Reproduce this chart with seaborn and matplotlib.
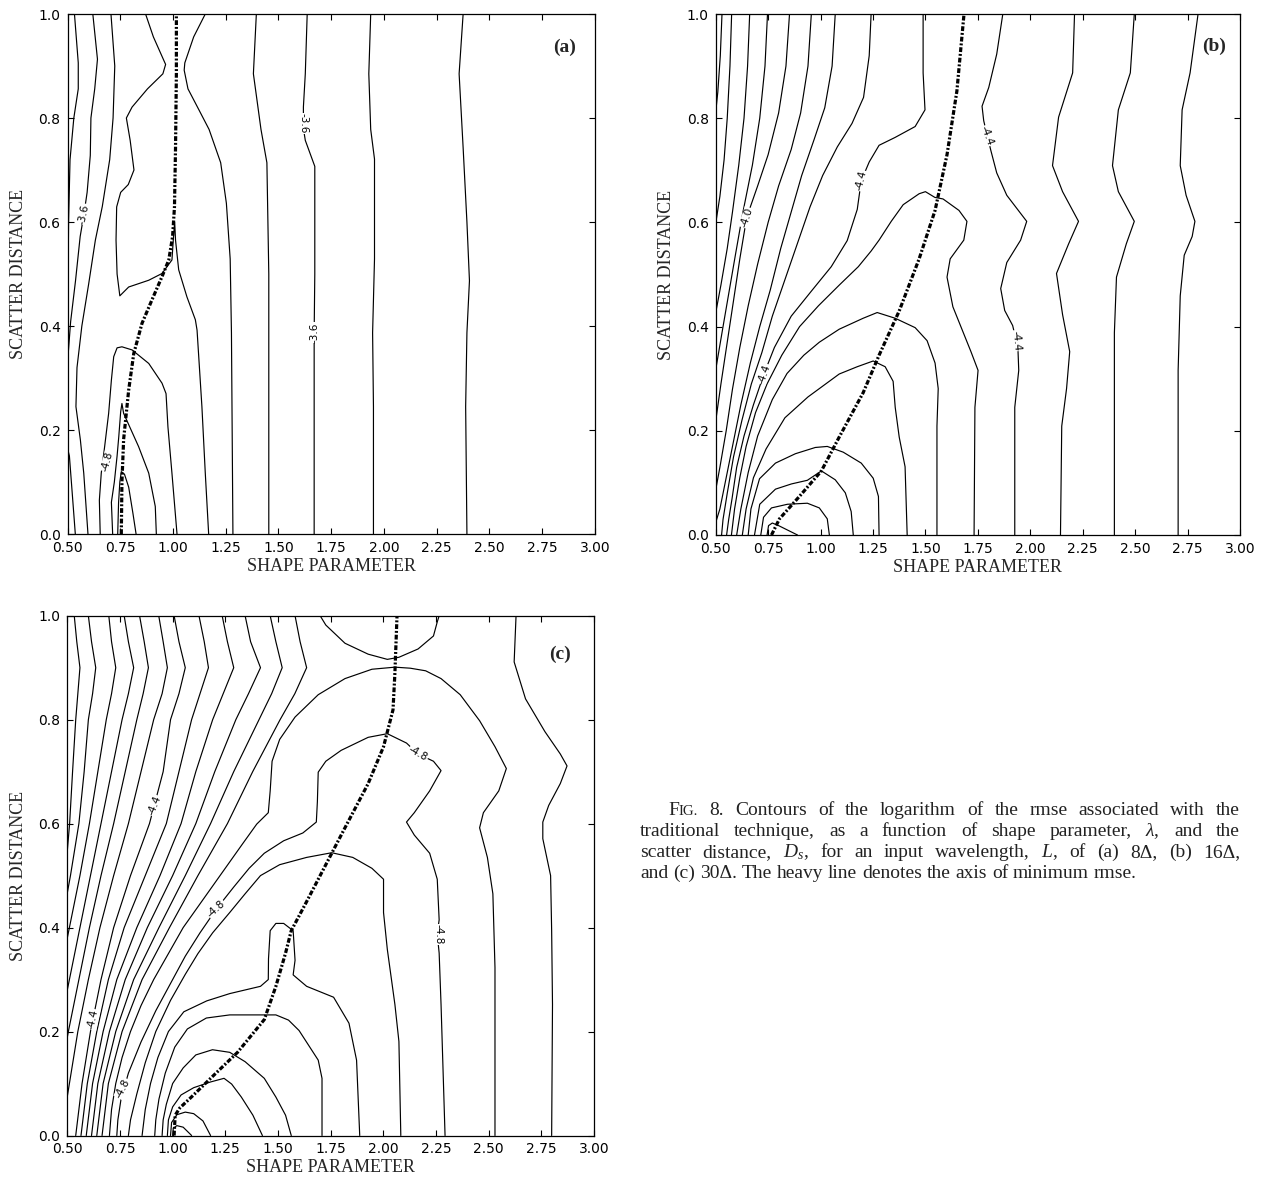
import matplotlib
matplotlib.use("Agg")
import matplotlib.pyplot as plt
import seaborn as sns

# ---------------------------------------------------------------
# Contour polylines (shape parameter, scatter distance) per panel
# ---------------------------------------------------------------

# Panel (a): L = 8 delta
a_r1 = [(2.375, 1.0), (2.356, 0.885), (2.375, 0.743), (2.393, 0.60), (2.405, 0.487), (2.393, 0.387), (2.387, 0.245), (2.393, 0.0)]
a_r2 = [(1.937, 1.0), (1.928, 0.885), (1.937, 0.778), (1.955, 0.721), (1.955, 0.529), (1.946, 0.387), (1.950, 0.245), (1.950, 0.0)]
a_r3 = [(1.636, 1.0), (1.627, 0.885), (1.618, 0.821), (1.618, 0.78), (1.627, 0.757), (1.672, 0.707), (1.672, 0.5), (1.669, 0.387), (1.669, 0.0)]
a_r4 = [(1.395, 1.0), (1.381, 0.885), (1.417, 0.778), (1.445, 0.714), (1.454, 0.5), (1.454, 0.3), (1.454, 0.0)]
a_r5 = [(1.153, 1.0), (1.098, 0.956), (1.056, 0.906), (1.053, 0.892), (1.071, 0.856), (1.125, 0.814), (1.171, 0.778),
        (1.226, 0.714), (1.253, 0.636), (1.271, 0.529), (1.277, 0.387), (1.284, 0.0)]
a_saddle = [(0.870, 1.0), (0.907, 0.956), (0.965, 0.903), (0.952, 0.885), (0.879, 0.856), (0.806, 0.821), (0.779, 0.80),
            (0.797, 0.757), (0.815, 0.70), (0.788, 0.672), (0.752, 0.657), (0.733, 0.629), (0.730, 0.565), (0.735, 0.50),
            (0.748, 0.458), (0.79, 0.475), (0.885, 0.488), (0.948, 0.501), (0.995, 0.527), (1.003, 0.575), (1.008, 0.60),
            (1.012, 0.565), (1.027, 0.508), (1.066, 0.456), (1.106, 0.412), (1.114, 0.392), (1.137, 0.245), (1.153, 0.117),
            (1.169, 0.0)]
a_l1 = [(0.533, 1.0), (0.551, 0.906), (0.551, 0.856), (0.530, 0.80), (0.512, 0.72), (0.505, 0.60), (0.503, 0.50), (0.497, 0.42)]
a_l1b = [(0.497, 0.17), (0.509, 0.15), (0.521, 0.086), (0.537, 0.0)]
a_l2 = [(0.620, 1.0), (0.642, 0.913), (0.629, 0.856), (0.611, 0.80), (0.608, 0.728), (0.593, 0.657), (0.578, 0.615),
        (0.560, 0.572), (0.538, 0.487), (0.515, 0.409), (0.503, 0.345), (0.497, 0.32)]
a_l3 = [(0.706, 1.0), (0.724, 0.90), (0.716, 0.80), (0.700, 0.72), (0.665, 0.63), (0.632, 0.565), (0.600, 0.48),
        (0.568, 0.40), (0.545, 0.32), (0.540, 0.245), (0.561, 0.181), (0.577, 0.117), (0.597, 0.0)]
a_arch1 = [(0.655, 0.0), (0.651, 0.065), (0.660, 0.117), (0.676, 0.168), (0.695, 0.232), (0.708, 0.296), (0.719, 0.341),
           (0.735, 0.358), (0.758, 0.360), (0.806, 0.354), (0.885, 0.328), (0.948, 0.290), (0.967, 0.270), (0.976, 0.206),
           (0.995, 0.117), (1.019, 0.0)]
a_arch2 = [(0.714, 0.0), (0.708, 0.061), (0.722, 0.10), (0.735, 0.15), (0.743, 0.187), (0.752, 0.235), (0.758, 0.251),
           (0.766, 0.232), (0.837, 0.168), (0.885, 0.117), (0.916, 0.053), (0.921, 0.0)]
a_arch3 = [(0.738, 0.0), (0.742, 0.06), (0.748, 0.10), (0.755, 0.12), (0.77, 0.115), (0.79, 0.09), (0.81, 0.04), (0.825, 0.0)]
a_min_axis = [(0.755, 0.0), (0.758, 0.10), (0.766, 0.182), (0.790, 0.277), (0.814, 0.347), (0.853, 0.405), (0.900, 0.450),
              (0.948, 0.495), (0.980, 0.527), (0.998, 0.572), (1.007, 0.629), (1.012, 0.743), (1.016, 0.885), (1.016, 1.0)]
a_labels = [("-3.6", 0.578, 0.615, 78), ("-3.6", 1.620, 0.790, -90), ("-3.6", 1.672, 0.387, 90), ("-4.8", 0.690, 0.14, 75)]

# Panel (b): L = 16 delta
b_r1 = [(2.800, 1.0), (2.762, 0.887), (2.724, 0.816), (2.715, 0.709), (2.743, 0.652), (2.785, 0.602), (2.772, 0.573),
        (2.734, 0.537), (2.715, 0.459), (2.705, 0.316), (2.705, 0.0)]
b_r2 = [(2.496, 1.0), (2.477, 0.887), (2.420, 0.816), (2.392, 0.709), (2.420, 0.659), (2.496, 0.602), (2.458, 0.559),
        (2.411, 0.495), (2.401, 0.388), (2.401, 0.0)]
b_r3 = [(2.211, 1.0), (2.202, 0.887), (2.135, 0.802), (2.106, 0.709), (2.154, 0.659), (2.230, 0.602), (2.183, 0.559),
        (2.125, 0.502), (2.154, 0.423), (2.188, 0.352), (2.173, 0.281), (2.150, 0.209), (2.144, 0.0)]
b_r4 = [(1.869, 1.0), (1.840, 0.923), (1.802, 0.859), (1.770, 0.823), (1.778, 0.795), (1.812, 0.738), (1.840, 0.695),
        (1.888, 0.652), (1.983, 0.602), (1.954, 0.566), (1.888, 0.523), (1.859, 0.473), (1.878, 0.431), (1.916, 0.402),
        (1.941, 0.359), (1.945, 0.316), (1.926, 0.245), (1.926, 0.0)]
b_a0 = [(0.745, 0.0), (0.752, 0.018), (0.77, 0.023), (0.80, 0.018), (0.85, 0.008), (0.89, 0.0)]
b_a1 = [(0.715, 0.0), (0.728, 0.034), (0.766, 0.052), (0.842, 0.059), (0.937, 0.061), (0.994, 0.052), (1.032, 0.031), (1.042, 0.0)]
b_a2 = [(0.685, 0.0), (0.71, 0.059), (0.785, 0.088), (0.861, 0.098), (0.937, 0.105), (1.004, 0.123), (1.07, 0.106),
        (1.118, 0.081), (1.146, 0.045), (1.156, 0.0)]
b_a3 = [(0.655, 0.0), (0.668, 0.05), (0.709, 0.108), (0.785, 0.138), (0.88, 0.156), (0.975, 0.168), (1.032, 0.170),
        (1.108, 0.159), (1.194, 0.138), (1.251, 0.109), (1.276, 0.074), (1.279, 0.0)]
b_a4 = [(0.627, 0.0), (0.645, 0.05), (0.68, 0.11), (0.74, 0.165), (0.83, 0.225), (0.94, 0.265), (1.089, 0.309),
        (1.175, 0.323), (1.251, 0.334), (1.308, 0.323), (1.346, 0.295), (1.356, 0.245), (1.375, 0.188), (1.403, 0.131), (1.413, 0.0)]
b_a5 = [(0.60, 0.0), (0.62, 0.05), (0.655, 0.12), (0.70, 0.19), (0.77, 0.26), (0.84, 0.31), (0.92, 0.345), (0.994, 0.37),
        (1.089, 0.395), (1.203, 0.416), (1.270, 0.427), (1.356, 0.416), (1.451, 0.398), (1.508, 0.373), (1.546, 0.330),
        (1.561, 0.281), (1.555, 0.209), (1.555, 0.0)]
b_a6 = [(0.575, 0.0), (0.59, 0.05), (0.615, 0.11), (0.645, 0.17), (0.69, 0.235), (0.745, 0.29), (0.815, 0.345),
        (0.90, 0.40), (0.99, 0.44), (1.09, 0.48), (1.18, 0.515), (1.241, 0.545), (1.279, 0.566), (1.337, 0.602),
        (1.394, 0.634), (1.470, 0.655), (1.50, 0.659), (1.545, 0.648), (1.584, 0.645), (1.660, 0.623), (1.698, 0.602),
        (1.683, 0.566), (1.618, 0.530), (1.603, 0.495), (1.631, 0.438), (1.717, 0.352), (1.751, 0.316), (1.736, 0.245), (1.732, 0.0)]
b_a7 = [(0.552, 0.0), (0.562, 0.03), (0.578, 0.07), (0.60, 0.13), (0.635, 0.19), (0.68, 0.25), (0.73, 0.309), (0.78, 0.36),
        (0.86, 0.42), (0.956, 0.468), (1.051, 0.515), (1.127, 0.565), (1.175, 0.625), (1.194, 0.680), (1.232, 0.716),
        (1.279, 0.748), (1.355, 0.763), (1.451, 0.784), (1.498, 0.816), (1.489, 0.887), (1.489, 1.0)]
b_l7 = [(1.241, 1.0), (1.232, 0.92), (1.205, 0.84), (1.15, 0.79), (1.08, 0.745), (1.01, 0.69), (0.95, 0.63), (0.89, 0.56),
        (0.83, 0.49), (0.77, 0.42), (0.72, 0.35), (0.67, 0.29), (0.625, 0.22), (0.585, 0.15), (0.555, 0.08), (0.535, 0.03), (0.528, 0.0)]
b_l6 = [(1.070, 1.0), (1.055, 0.9), (1.02, 0.82), (0.97, 0.76), (0.91, 0.69), (0.86, 0.62), (0.81, 0.55), (0.76, 0.47),
        (0.71, 0.40), (0.665, 0.33), (0.62, 0.25), (0.58, 0.17), (0.545, 0.10), (0.52, 0.05), (0.497, 0.02)]
b_l5 = [(0.956, 1.0), (0.94, 0.9), (0.905, 0.81), (0.86, 0.74), (0.80, 0.67), (0.75, 0.60), (0.70, 0.52), (0.655, 0.44),
        (0.615, 0.36), (0.58, 0.28), (0.55, 0.20), (0.52, 0.13), (0.497, 0.08)]
b_l4 = [(0.852, 1.0), (0.835, 0.9), (0.80, 0.81), (0.75, 0.73), (0.70, 0.67), (0.648, 0.61), (0.615, 0.53), (0.585, 0.45),
        (0.555, 0.37), (0.525, 0.29), (0.497, 0.21)]
b_l3 = [(0.747, 1.0), (0.735, 0.9), (0.71, 0.80), (0.675, 0.71), (0.63, 0.62), (0.595, 0.54), (0.565, 0.47), (0.535, 0.40), (0.497, 0.31)]
b_l2 = [(0.662, 1.0), (0.652, 0.9), (0.635, 0.8), (0.61, 0.71), (0.58, 0.62), (0.555, 0.55), (0.525, 0.48), (0.497, 0.42)]
b_l1 = [(0.576, 1.0), (0.568, 0.9), (0.555, 0.8), (0.54, 0.72), (0.52, 0.65), (0.497, 0.59)]
b_l0 = [(0.53, 1.0), (0.522, 0.92), (0.51, 0.85), (0.497, 0.80)]
b_min_axis = [(0.766, 0.0), (0.804, 0.031), (0.899, 0.074), (1.004, 0.123), (1.089, 0.188), (1.203, 0.273), (1.279, 0.345),
              (1.375, 0.430), (1.470, 0.530), (1.546, 0.623), (1.603, 0.730), (1.650, 0.852), (1.684, 1.0)]
b_labels = [("-4.0", 0.648, 0.609, 72), ("-4.4", 1.194, 0.680, 76), ("-4.4", 0.73, 0.309, 70),
            ("-4.4", 1.793, 0.766, -70), ("-4.4", 1.935, 0.373, -85)]

# Panel (c): L = 30 delta
c_r1 = [(2.630, 1.0), (2.621, 0.911), (2.675, 0.840), (2.767, 0.777), (2.840, 0.734), (2.872, 0.711), (2.840, 0.677),
        (2.785, 0.635), (2.757, 0.603), (2.757, 0.571), (2.794, 0.5), (2.799, 0.394), (2.803, 0.252), (2.799, 0.0)]
c_cap = [(1.700, 1.0), (1.727, 0.982), (1.818, 0.947), (1.928, 0.926), (2.019, 0.916), (2.074, 0.920), (2.165, 0.936),
         (2.238, 0.961), (2.256, 0.988), (2.265, 1.0)]
c_big = [(0.70, 0.0), (0.71, 0.05), (0.73, 0.10), (0.76, 0.15), (0.80, 0.20), (0.85, 0.25), (0.91, 0.30), (0.98, 0.35),
         (1.05, 0.40), (1.12, 0.44), (1.19, 0.48), (1.26, 0.52), (1.33, 0.56), (1.399, 0.599), (1.454, 0.621), (1.463, 0.663),
         (1.472, 0.720), (1.508, 0.762), (1.581, 0.805), (1.691, 0.848), (1.818, 0.879), (1.946, 0.897), (2.055, 0.901),
         (2.128, 0.899), (2.201, 0.894), (2.274, 0.879), (2.365, 0.848), (2.457, 0.798), (2.530, 0.748), (2.584, 0.706),
         (2.548, 0.663), (2.475, 0.621), (2.457, 0.592), (2.494, 0.535), (2.520, 0.465), (2.530, 0.323), (2.530, 0.0)]
c_arch7 = [(0.735, 0.0), (0.74, 0.03), (0.755, 0.07), (0.79, 0.12), (0.85, 0.18), (0.92, 0.24), (1.00, 0.30), (1.06, 0.345),
           (1.13, 0.39), (1.208, 0.436), (1.29, 0.478), (1.363, 0.514), (1.435, 0.543), (1.527, 0.567), (1.618, 0.582),
           (1.682, 0.603), (1.687, 0.642), (1.691, 0.699), (1.727, 0.720), (1.800, 0.741), (1.928, 0.766), (2.019, 0.773),
           (2.110, 0.755), (2.165, 0.734), (2.238, 0.720), (2.274, 0.702), (2.220, 0.663), (2.147, 0.621), (2.110, 0.603),
           (2.147, 0.578), (2.220, 0.543), (2.256, 0.493), (2.265, 0.415), (2.256, 0.387), (2.265, 0.351), (2.274, 0.252), (2.293, 0.0)]
c_arch6 = [(0.79, 0.0), (0.80, 0.03), (0.83, 0.08), (0.87, 0.14), (0.92, 0.20), (0.99, 0.26), (1.06, 0.31), (1.12, 0.35),
           (1.19, 0.39), (1.271, 0.429), (1.344, 0.465), (1.417, 0.50), (1.508, 0.521), (1.636, 0.535), (1.755, 0.544),
           (1.855, 0.535), (1.946, 0.514), (2.001, 0.493), (2.001, 0.429), (2.019, 0.358), (2.055, 0.252), (2.074, 0.181), (2.083, 0.0)]
c_arch5 = [(0.855, 0.0), (0.87, 0.05), (0.895, 0.10), (0.93, 0.15), (0.98, 0.20), (1.053, 0.238), (1.162, 0.259),
           (1.271, 0.273), (1.417, 0.287), (1.454, 0.30), (1.455, 0.34), (1.463, 0.394), (1.490, 0.408), (1.527, 0.408),
           (1.572, 0.394), (1.581, 0.337), (1.572, 0.309), (1.636, 0.287), (1.764, 0.266), (1.837, 0.216), (1.873, 0.145), (1.888, 0.0)]
c_arch4 = [(0.915, 0.0), (0.92, 0.03), (0.935, 0.07), (0.965, 0.12), (1.01, 0.17), (1.07, 0.205), (1.16, 0.226),
           (1.271, 0.232), (1.490, 0.232), (1.55, 0.222), (1.600, 0.202), (1.691, 0.145), (1.709, 0.110), (1.709, 0.0)]
c_arch3 = [(0.95, 0.0), (0.955, 0.03), (0.97, 0.06), (1.0, 0.10), (1.05, 0.13), (1.11, 0.155), (1.189, 0.165),
           (1.271, 0.160), (1.344, 0.142), (1.435, 0.110), (1.490, 0.074), (1.536, 0.039), (1.563, 0.0)]
c_arch2 = [(0.975, 0.0), (0.98, 0.03), (1.0, 0.055), (1.04, 0.078), (1.10, 0.092), (1.18, 0.103), (1.244, 0.110),
           (1.28, 0.099), (1.326, 0.074), (1.381, 0.039), (1.426, 0.0)]
c_arch1 = [(0.99, 0.0), (0.995, 0.025), (1.02, 0.040), (1.06, 0.045), (1.10, 0.042), (1.144, 0.028), (1.18, 0.0)]
c_arch0 = [(1.0, 0.0), (1.003, 0.014), (1.02, 0.019), (1.05, 0.016), (1.09, 0.0)]

# left-hand family in panel (c), x positions at the shared heights below
c_heights = [1.0, 0.95, 0.9, 0.85, 0.8, 0.7, 0.6, 0.5, 0.4, 0.3, 0.2, 0.1, 0.0]
c_t1 = [0.533, 0.545, 0.56, 0.55, 0.54, 0.525, 0.511, 0.49]
c_t2 = [0.600, 0.615, 0.635, 0.62, 0.60, 0.58, 0.555, 0.515, 0.47]
c_t3 = [0.697, 0.71, 0.73, 0.71, 0.685, 0.645, 0.605, 0.56, 0.51, 0.46]
c_t4 = [0.770, 0.79, 0.815, 0.79, 0.76, 0.71, 0.66, 0.61, 0.56, 0.51, 0.46]
c_t5 = [0.843, 0.865, 0.885, 0.86, 0.83, 0.775, 0.72, 0.66, 0.605, 0.555, 0.505, 0.46]
c_t6 = [0.934, 0.955, 0.975, 0.95, 0.91, 0.85, 0.79, 0.72, 0.655, 0.60, 0.55, 0.51, 0.47]
c_t7 = [1.007, 1.03, 1.06, 1.03, 0.99, 0.955, 0.89, 0.80, 0.72, 0.66, 0.61, 0.57, 0.54]
c_t8 = [1.125, 1.15, 1.17, 1.13, 1.09, 1.03, 0.97, 0.87, 0.77, 0.695, 0.64, 0.595, 0.565]
c_t9 = [1.235, 1.26, 1.29, 1.24, 1.19, 1.11, 1.04, 0.94, 0.83, 0.735, 0.67, 0.62, 0.59]
c_t10 = [1.344, 1.37, 1.417, 1.36, 1.30, 1.20, 1.11, 1.00, 0.88, 0.775, 0.70, 0.645, 0.615]
c_t11 = [1.463, 1.49, 1.52, 1.47, 1.41, 1.29, 1.18, 1.06, 0.935, 0.815, 0.73, 0.67, 0.64]
c_t12 = [1.581, 1.605, 1.636, 1.58, 1.51, 1.38, 1.26, 1.12, 0.985, 0.855, 0.76, 0.695, 0.665]
c_min_axis = [(1.007, 0.0), (1.012, 0.039), (1.034, 0.053), (1.089, 0.074), (1.198, 0.117), (1.308, 0.160), (1.435, 0.223),
              (1.490, 0.287), (1.536, 0.351), (1.563, 0.394), (1.636, 0.450), (1.727, 0.521), (1.818, 0.592),
              (1.928, 0.677), (2.001, 0.748), (2.046, 0.819), (2.055, 0.890), (2.065, 1.0)]
c_labels = [("-4.4", 0.912, 0.635, 68), ("-4.4", 0.622, 0.223, 78), ("-4.8", 1.208, 0.436, 42),
            ("-4.8", 0.765, 0.09, 62), ("-4.8", 2.165, 0.734, -30), ("-4.8", 2.26, 0.387, -90)]

x_ticks = [0.50, 0.75, 1.00, 1.25, 1.50, 1.75, 2.00, 2.25, 2.50, 2.75, 3.00]
y_ticks = [0.0, 0.2, 0.4, 0.6, 0.8, 1.0]
panel_tags = ["(a)", "(b)", "(c)"]

caption_lines = [
    [[("F", 14), ("IG.", 10.8)], "8.", "Contours", "of", "the", "logarithm", "of", "the", "rmse", "associated", "with", "the"],
    "traditional technique, as a function of shape parameter, $\\it{\\lambda}$, and the".split(),
    "scatter distance, $D_s$, for an input wavelength, $L$, of (a) 8\u0394, (b) 16\u0394,".split(),
    "and (c) 30\u0394. The heavy line denotes the axis of minimum rmse.".split(),
]

# ---------------------------------------------------------------
sns.set_theme(style="ticks")
plt.rcParams.update({
    "font.family": ["DejaVu Sans"],
    "mathtext.fontset": "custom",
    "mathtext.rm": "Liberation Serif",
    "mathtext.it": "Liberation Serif:italic",
    "mathtext.bf": "Liberation Serif:bold",
    "axes.linewidth": 0.9,
    "axes.edgecolor": "black",
    "xtick.direction": "in",
    "ytick.direction": "in",
    "xtick.top": True,
    "ytick.right": True,
    "xtick.major.size": 4,
    "ytick.major.size": 4,
    "xtick.major.width": 0.8,
    "ytick.major.width": 0.8,
    "xtick.color": "black",
    "ytick.color": "black",
})

W, H = 1265, 1177
fig = plt.figure(figsize=(W / 100, H / 100), dpi=100)

# axes boxes in pixels: left, top, right, bottom
boxes = [(67.5, 14, 595, 534), (715.7, 14, 1240, 535), (67.3, 615.7, 594, 1135.5)]
axes = []
for (l, t, r, b) in boxes:
    axes.append(fig.add_axes([l / W, 1 - b / H, (r - l) / W, (b - t) / H]))


def draw(ax, pts, heavy=False):
    xs = [p[0] for p in pts]
    ys = [p[1] for p in pts]
    sns.lineplot(x=xs, y=ys, sort=False, estimator=None, ax=ax, color="black",
                 linewidth=2.3 if heavy else 0.85)
    line = ax.lines[-1]
    if heavy:
        line.set_linestyle((0, (1.5, 0.6, 0.6, 0.6)))
        line.set_zorder(4)
        line.set_dash_capstyle("butt")


def label(ax, txt, x, y, rot):
    ax.text(x, y, txt, rotation=rot, rotation_mode="anchor", ha="center", va="center",
            fontsize=7.5, family="DejaVu Sans", color="black", zorder=6,
            bbox=dict(fc="white", ec="none", pad=0.3))


panel_a = [a_r1, a_r2, a_r3, a_r4, a_r5, a_saddle, a_l1, a_l1b, a_l2, a_l3, a_arch1, a_arch2, a_arch3]
panel_b = [b_r1, b_r2, b_r3, b_r4, b_a0, b_a1, b_a2, b_a3, b_a4, b_a5, b_a6, b_a7,
           b_l7, b_l6, b_l5, b_l4, b_l3, b_l2, b_l1, b_l0]
panel_c = [c_r1, c_cap, c_big, c_arch7, c_arch6, c_arch5, c_arch4, c_arch3, c_arch2, c_arch1, c_arch0]
for tx in [c_t1, c_t2, c_t3, c_t4, c_t5, c_t6, c_t7, c_t8, c_t9, c_t10, c_t11, c_t12]:
    panel_c.append(list(zip(tx, c_heights[:len(tx)])))

contours = [panel_a, panel_b, panel_c]
min_axes = [a_min_axis, b_min_axis, c_min_axis]
labels = [a_labels, b_labels, c_labels]
tag_pos = [(2.858, 0.935), (2.876, 0.937), (2.84, 0.926)]

for i, ax in enumerate(axes):
    for pts in contours[i]:
        draw(ax, pts)
    draw(ax, min_axes[i], heavy=True)
    for (txt, x, y, r) in labels[i]:
        label(ax, txt, x, y, r)
    ax.text(tag_pos[i][0], tag_pos[i][1], panel_tags[i], ha="center", va="center",
            fontsize=14, fontweight="bold", family="Liberation Serif")
    ax.set_xlim(0.5, 3.0)
    ax.set_ylim(0.0, 1.0)
    ax.set_xticks(x_ticks)
    ax.set_xticklabels([f"{v:.2f}" for v in x_ticks], fontsize=10, family="DejaVu Sans")
    ax.set_yticks(y_ticks)
    ax.set_yticklabels([f"{v:.1f}" for v in y_ticks], fontsize=10, family="DejaVu Sans")
    ax.tick_params(axis="both", pad=5)
    ax.set_xlabel("SHAPE PARAMETER", fontsize=13, family="Liberation Serif")
    ax.set_ylabel("SCATTER DISTANCE", fontsize=13, family="Liberation Serif")
    ax.xaxis.set_label_coords(0.5, -0.046)
    ax.yaxis.set_label_coords(-0.077, 0.5)
    ax.set_facecolor("white")
    for s in ax.spines.values():
        s.set_visible(True)
        s.set_color("black")

# ---------------------------------------------------------------
# caption, set as a justified paragraph
fig.canvas.draw()
renderer = fig.canvas.get_renderer()


def width_of(s, size):
    t = fig.text(0, 0, s, fontsize=size, family="Liberation Serif")
    w = t.get_window_extent(renderer).width
    t.remove()
    return w


def set_line(words, x0, x1, base, justify, size=14):
    pieces = []
    widths = []
    for w in words:
        parts = w if isinstance(w, list) else [(w, size)]
        pw = [width_of(s, sz) for s, sz in parts]
        pieces.append((parts, pw))
        widths.append(sum(pw))
    if justify and len(words) > 1:
        gap = (x1 - x0 - sum(widths)) / (len(words) - 1)
    else:
        gap = size * 100 / 72 * 0.25
    x = x0
    for (parts, pw), tw in zip(pieces, widths):
        xx = x
        for (s, sz), w in zip(parts, pw):
            fig.text(xx / W, 1 - base / H, s, fontsize=sz, family="Liberation Serif",
                     ha="left", va="baseline", color="#222222")
            xx += w
        x += tw + gap


set_line(caption_lines[0], 668, 1240, 815, True)
set_line(caption_lines[1], 640, 1240, 836, True)
set_line(caption_lines[2], 640, 1240, 857, True)
set_line(caption_lines[3], 640, 1240, 878, False)

fig.savefig("out.png", dpi=100, facecolor="white")
